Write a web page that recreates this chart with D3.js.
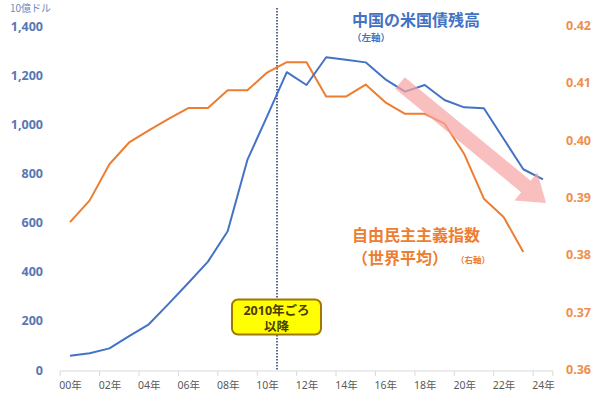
<!DOCTYPE html>
<html>
<head>
<meta charset="utf-8">
<script src="https://cdn.jsdelivr.net/npm/d3@7"></script>
<style>
  body { margin: 0; background: #fff; }
  svg { display: block; font-family: "Noto Sans", "Noto Sans CJK JP", sans-serif; }
</style>
</head>
<body>
<div id="chart"></div>
<script>
var width = 600, height = 398;

// data
var years = ["00","01","02","03","04","05","06","07","08","09","10","11","12",
             "13","14","15","16","17","18","19","20","21","22","23","24"];
var holdings = [58, 68, 88, 138, 186, 269, 354, 441, 565, 855, 1032, 1212, 1160,
                1273, 1263, 1252, 1183, 1133, 1160, 1099, 1069, 1065, 941, 817, 776];
var democracy = [0.3857, 0.3895, 0.3958, 0.3996, 0.4017, 0.4037, 0.4056, 0.4056,
                 0.4087, 0.4087, 0.4118, 0.4136, 0.4136, 0.4076, 0.4076, 0.4097,
                 0.4066, 0.4046, 0.4046, 0.4029, 0.3976, 0.3898, 0.3866, 0.3805];
var leftTicks = [0, 200, 400, 600, 800, 1000, 1200, 1400];
var rightTicks = [0.36, 0.37, 0.38, 0.39, 0.40, 0.41, 0.42];
var labelYears = ["00","02","04","06","08","10","12","14","16","18","20","22","24"];

var blue = "#4472c4", orange = "#ed7d31";

var svg = d3.select("#chart").append("svg")
    .attr("width", width)
    .attr("height", height);

// scales
var x = d3.scalePoint().domain(years).range([70, 543]);
var yL = d3.scaleLinear().domain([0, 1400]).range([370, 26]);
var yR = d3.scaleLinear().domain([0.36, 0.42]).range([369.5, 25.5]);
var step = x.step();

// x axis baseline + tick marks at category boundaries (every 2 years)
svg.append("line")
    .attr("x1", x(years[0]) - step / 2).attr("x2", x(years[years.length - 1]) + step / 2)
    .attr("y1", 371).attr("y2", 371)
    .attr("stroke", "#d9d9d9").attr("stroke-width", 1);
var bounds = years.filter((d, i) => i % 2 === 0).map(d => x(d) - step / 2);
bounds.push(x(years[years.length - 1]) + step / 2);
svg.append("g").selectAll("line").data(bounds).enter().append("line")
    .attr("x1", d => d).attr("x2", d => d)
    .attr("y1", 371).attr("y2", 376)
    .attr("stroke", "#d9d9d9");

var xAxis = svg.append("g")
    .attr("transform", "translate(0,371)")
    .call(d3.axisBottom(x).tickValues(labelYears).tickSize(0).tickPadding(11)
        .tickFormat(d => d + "年"));
xAxis.select(".domain").remove();
xAxis.selectAll("text")
    .attr("font-size", "10.5px").attr("fill", "#595959")
    .attr("font-family", "'Noto Sans', 'Noto Sans CJK JP', sans-serif");

// left axis
var leftAxis = svg.append("g")
    .attr("transform", "translate(48,0)")
    .call(d3.axisLeft(yL).tickValues(leftTicks).tickSize(0).tickPadding(5)
        .tickFormat(d3.format(",")));
leftAxis.select(".domain").remove();
leftAxis.selectAll("text")
    .attr("font-size", "12.5px").attr("font-weight", "bold").attr("fill", "#5677b4")
    .attr("font-family", "'Noto Sans', sans-serif");

// right axis
var rightAxis = svg.append("g")
    .attr("transform", "translate(560,0)")
    .call(d3.axisRight(yR).tickValues(rightTicks).tickSize(0).tickPadding(6)
        .tickFormat(d3.format(".2f")));
rightAxis.select(".domain").remove();
rightAxis.selectAll("text")
    .attr("font-size", "12.5px").attr("font-weight", "bold").attr("fill", "#ee8f4e")
    .attr("font-family", "'Noto Sans', sans-serif");

// unit label
svg.append("text")
    .attr("x", 10).attr("y", 12)
    .attr("font-size", "10px").attr("fill", "#6d87bd")
    .attr("font-family", "'Noto Sans CJK JP', sans-serif")
    .text("10億ドル");

// vertical dotted marker around 2010
svg.append("line")
    .attr("x1", 277).attr("x2", 277)
    .attr("y1", 8).attr("y2", 371)
    .attr("stroke", "#203864").attr("stroke-width", 1.5)
    .attr("stroke-dasharray", "1.5,1.5");

// lines
var lineL = d3.line().x((d, i) => x(years[i])).y(d => yL(d));
var lineR = d3.line().x((d, i) => x(years[i])).y(d => yR(d));

svg.append("path")
    .datum(democracy)
    .attr("d", lineR)
    .attr("fill", "none")
    .attr("stroke", orange)
    .attr("stroke-width", 2)
    .attr("stroke-linejoin", "round");

svg.append("path")
    .datum(holdings)
    .attr("d", lineL)
    .attr("fill", "none")
    .attr("stroke", blue)
    .attr("stroke-width", 2)
    .attr("stroke-linejoin", "round");

// pink trend arrow
(function () {
    var x0 = 400, y0 = 83, x1 = 546, y1 = 203;
    var dx = x1 - x0, dy = y1 - y0, len = Math.sqrt(dx * dx + dy * dy);
    var ux = dx / len, uy = dy / len, nx = -uy, ny = ux;
    var bw = 7.5, hw = 18, hl = 26;
    var bx = x1 - ux * hl, by = y1 - uy * hl;
    var pts = [
        [x0 + nx * bw, y0 + ny * bw],
        [bx + nx * bw, by + ny * bw],
        [bx + nx * hw, by + ny * hw],
        [x1, y1],
        [bx - nx * hw, by - ny * hw],
        [bx - nx * bw, by - ny * bw],
        [x0 - nx * bw, y0 - ny * bw]
    ];
    svg.append("path")
        .attr("d", d3.line()(pts) + "Z")
        .attr("fill", "#f6a3a3")
        .attr("fill-opacity", 0.7);
})();

// series labels
svg.append("text")
    .attr("x", 352).attr("y", 26)
    .attr("font-size", "16px").attr("font-weight", "bold").attr("fill", blue)
    .attr("font-family", "'Noto Sans CJK JP', sans-serif")
    .text("中国の米国債残高");
svg.append("text")
    .attr("x", 352).attr("y", 41)
    .attr("font-size", "9.5px").attr("font-weight", "bold").attr("fill", blue)
    .attr("font-family", "'Noto Sans CJK JP', sans-serif")
    .text("（左軸）");

svg.append("text")
    .attr("x", 352).attr("y", 241)
    .attr("font-size", "16px").attr("font-weight", "bold").attr("fill", orange)
    .attr("font-family", "'Noto Sans CJK JP', sans-serif")
    .text("自由民主主義指数");
svg.append("text")
    .attr("x", 352).attr("y", 264)
    .attr("font-size", "16px").attr("font-weight", "bold").attr("fill", orange)
    .attr("font-family", "'Noto Sans CJK JP', sans-serif")
    .text("（世界平均）");
svg.append("text")
    .attr("x", 456).attr("y", 263)
    .attr("font-size", "8.5px").attr("font-weight", "bold").attr("fill", orange)
    .attr("font-family", "'Noto Sans CJK JP', sans-serif")
    .text("（右軸）");

// annotation box (two-line label in one text element)
var box = svg.append("g");
box.append("rect")
    .attr("x", 232).attr("y", 299.5)
    .attr("width", 89).attr("height", 35)
    .attr("rx", 6).attr("ry", 6)
    .attr("fill", "#ffff00")
    .attr("stroke", "#a07800").attr("stroke-width", 2);
var note = box.append("text")
    .attr("text-anchor", "middle")
    .attr("font-size", "12.5px").attr("font-weight", "bold").attr("fill", "#4a3c00")
    .attr("font-family", "'Noto Sans', 'Noto Sans CJK JP', sans-serif");
note.append("tspan").attr("x", 276.5).attr("y", 315).text("2010年ごろ");
note.append("tspan").attr("x", 276.5).attr("y", 330.5).text("以降");
</script>
</body>
</html>
